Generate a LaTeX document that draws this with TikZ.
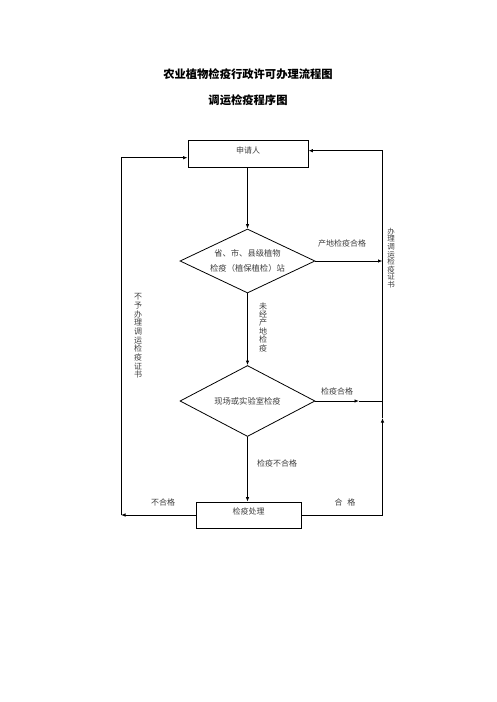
\documentclass[tikz,border=0pt]{standalone}
\usepackage{fontspec}
\newfontfamily\cjk{Noto Sans CJK SC}
\usetikzlibrary{arrows.meta,shapes.geometric,calc}
\begin{document}
\begin{tikzpicture}[x=1pt,y=-1pt,
  line/.style={draw=black,line width=0.8pt},
  arr/.style={line,-{Latex[length=4.5pt,width=3.5pt]}},
  box/.style={draw=black,line width=0.8pt,rectangle,inner sep=0pt,text depth=7.5pt,font=\cjk\fontsize{8}{10}\selectfont,text=black!75},
  dia/.style={draw=black,line width=0.8pt,diamond,inner sep=0pt,aspect=2.1,align=center,font=\cjk\fontsize{8.3}{15.5}\selectfont,text=black!75},
  lbl/.style={font=\cjk\fontsize{8}{10}\selectfont,text=black!75,inner sep=0pt},
  vlbl/.style={lbl,align=center},
  ttl/.style={font=\cjk\bfseries\fontsize{11.3}{13}\selectfont,inner sep=0pt}
]
\useasboundingbox (0,0) rectangle (496,702);
\fill[white] (0,0) rectangle (496,702);

\node[ttl] (t1) at (248,74) {农业植物检疫行政许可办理流程图};
\node[ttl] (t2) at (248,100) {调运检疫程序图};

\node[box,minimum width=120pt,minimum height=27pt] (apply) at (248,153.5) {申请人};
\node[dia,minimum width=135pt,minimum height=64pt] (d1) at (247.5,261) {省、市、县级植物\\检疫（植保植检）站};
\node[dia,minimum width=135pt,minimum height=71pt] (d2) at (247.5,401) {现场或实验室检疫};
\node[box,minimum width=105pt,minimum height=26pt] (proc) at (248.5,515) {检疫处理};

\coordinate (RT) at (382.5,150.7);
\coordinate (RB) at (382.5,515);
\coordinate (RUP) at (382.5,418);
\coordinate (LT) at (121,157.7);
\coordinate (LB) at (121,515);
\coordinate (M2) at (359,401);

\draw[arr] (apply.south -| d1.north) -- (d1.north);
\draw[arr] (d1.south) -- (d2.north);
\draw[arr] (d2.south) -- (proc.north -| d2.south);
\draw[arr] (d1.east) -- (d1.east -| RT);
\draw[arr] (d2.east) -- (M2);
\draw[line] (M2) -- (d2.east -| RT);
\draw[arr] (proc.east) -- (RB) -- (RUP);
\draw[line] (RUP) -- (RT);
\draw[arr] (RT) -- (RT -| apply.east);
\draw[arr] (proc.west) -- (LB);
\draw[arr] (LB) -- (LT) -- (LT -| apply.west);

\node[lbl] (l1) at (342,243) {产地检疫合格};
\node[lbl] (l2) at (337,391) {检疫合格};
\node[lbl] (l3) at (277,463) {检疫不合格};
\node[lbl] (l4) at (163,502) {不合格};
\node[lbl] (l5) at (345,502) {合\hspace{0.6em}格};
\node[vlbl,font=\cjk\fontsize{8}{8.4}\selectfont] (v1) at (263,327) {未\\经\\产\\地\\检\\疫};
\node[vlbl,font=\cjk\fontsize{7.5}{7.6}\selectfont] (v2) at (391,258) {办\\理\\调\\运\\检\\疫\\证\\书};
\node[vlbl,font=\cjk\fontsize{8}{8.7}\selectfont] (v3) at (138,336) {不\\予\\办\\理\\调\\运\\检\\疫\\证\\书};
\end{tikzpicture}
\end{document}
